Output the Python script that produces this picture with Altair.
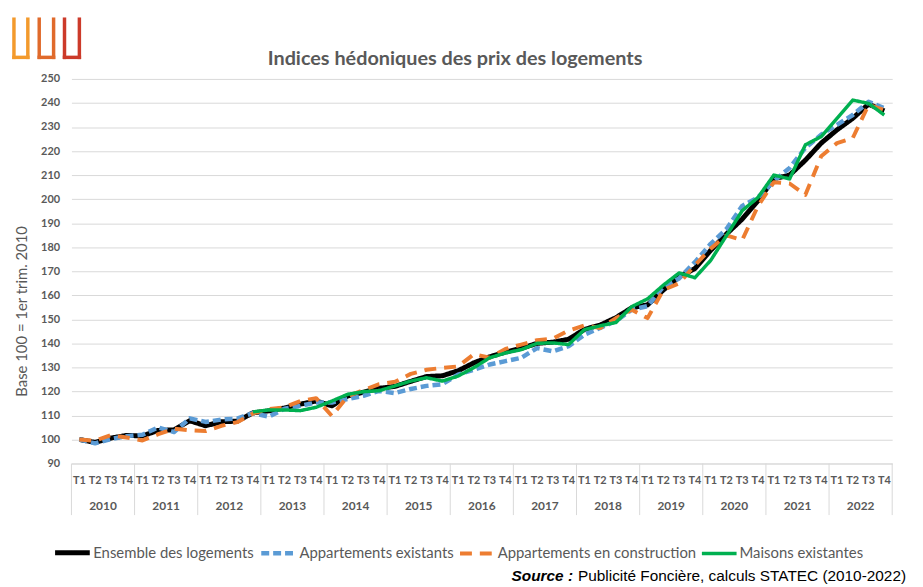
import altair as alt
import pandas as pd

years = list(range(2010, 2023))
quarter_names = ["T1", "T2", "T3", "T4"]
quarters = [f"{y} {q}" for y in years for q in quarter_names]

series_names = [
    "Ensemble des logements",
    "Appartements existants",
    "Appartements en construction",
    "Maisons existantes",
]
series_colors = ["#000000", "#5b9bd5", "#ed7d31", "#00b050"]
series_dash = [[1, 0], [8, 4], [12, 8], [1, 0]]
series_width = [5, 3.5, 3.5, 2.25]

ensemble = [100.0, 98.8, 100.6, 101.7,
            101.5, 103.8, 104.0, 107.8,
            105.7, 107.4, 107.6, 111.1,
            111.9, 113.1, 114.7, 116.0,
            114.0, 118.1, 119.7, 121.3,
            122.1, 124.2, 126.2, 126.5,
            128.6, 131.9, 134.4, 136.4,
            137.9, 140.0, 140.5, 141.7,
            145.8, 147.6, 150.7, 154.8,
            156.0, 162.2, 167.7, 171.1,
            178.7, 185.5, 191.7, 199.3,
            208.5, 210.0, 216.2, 223.3,
            228.8, 233.6, 239.5, 236.7]

app_existants = [100.0, 98.4, 100.2, 101.4,
                 102.0, 105.0, 103.1, 108.8,
                 107.3, 108.3, 108.7, 111.0,
                 109.5, 112.8, 114.0, 115.4,
                 115.4, 116.8, 118.2, 120.2,
                 119.3, 121.0, 122.3, 123.0,
                 127.0, 129.0, 131.2, 132.6,
                 134.0, 138.0, 136.7, 138.8,
                 143.6, 146.4, 149.3, 154.0,
                 155.5, 163.6, 167.0, 173.8,
                 181.4, 187.6, 197.2, 200.7,
                 207.5, 213.0, 221.3, 226.8,
                 230.9, 235.0, 240.5, 237.8]

app_construction = [100.0, 99.5, 101.8, 100.8,
                    99.6, 102.2, 104.5, 103.8,
                    103.5, 105.7, 107.2, 110.8,
                    112.7, 113.4, 116.0, 117.2,
                    109.8, 118.0, 120.5, 123.0,
                    124.0, 127.3, 129.0, 129.8,
                    130.4, 135.5, 134.0, 137.7,
                    139.5, 141.3, 142.0, 145.3,
                    147.5, 146.4, 150.5, 154.0,
                    150.5, 162.2, 165.0, 172.5,
                    179.4, 184.9, 183.0, 197.2,
                    207.0, 206.5, 201.8, 217.8,
                    223.3, 225.4, 239.2, 237.0]

maisons = [None] * 11 + [111.5,
                         112.3, 112.3, 112.0, 113.4,
                         116.0, 118.8, 119.9, 120.3,
                         122.3, 124.3, 125.7, 124.3,
                         126.4, 129.9, 134.0, 136.0,
                         137.4, 140.0, 140.2, 139.5,
                         145.7, 147.3, 148.7, 155.3,
                         158.5, 164.2, 169.3, 167.3,
                         174.5, 184.8, 195.2, 200.7,
                         210.0, 208.4, 222.6, 226.0,
                         233.6, 241.2, 239.8, 235.0]

y_ticks = list(range(90, 251, 10))

title_text = "Indices hédoniques des prix des logements"
y_title = "Base 100 = 1er trim. 2010"
source_bold = "Source :"
source_rest = "Publicité Foncière, calculs STATEC (2010-2022)"

GRAY = "#595959"
GRID = "#d9d9d9"
FONT = "Lato"

all_values = [ensemble, app_existants, app_construction, maisons]
rows = []
for name, vals in zip(series_names, all_values):
    for i, (q, v) in enumerate(zip(quarters, vals)):
        if v is not None:
            rows.append({"q": q, "idx": i, "series": name, "value": v})
df = pd.DataFrame(rows)

W, H = 828, 388

x_scale = alt.Scale(type="band", domain=quarters, paddingInner=0, paddingOuter=0)
x_axis = alt.Axis(
    title=None,
    labelExpr="split(datum.value, ' ')[1]",
    labelAngle=0,
    labelFont=FONT,
    labelFontSize=11,
    labelFontWeight="bold",
    labelColor=GRAY,
    labelPadding=11,
    labelOverlap=False,
    labelBound=False,
    ticks=False,
    grid=False,
    domainColor=GRID,
    domainWidth=1,
)
y_enc = alt.Y(
    "value:Q",
    scale=alt.Scale(domain=[90, 250], nice=False, zero=False),
    axis=alt.Axis(
        values=y_ticks,
        title=y_title,
        titleFont=FONT,
        titleFontSize=15,
        titleFontWeight="normal",
        titleColor=GRAY,
        titleAngle=-90,
        titleX=-50,
        titleY=234,
        titleAlign="center",
        titleBaseline="middle",
        labelFont=FONT,
        labelFontSize=11,
        labelFontWeight="bold",
        labelColor=GRAY,
        labelPadding=12,
        ticks=False,
        domain=False,
        gridColor=GRID,
        gridWidth=1,
    ),
)

color_enc = alt.Color(
    "series:N",
    scale=alt.Scale(domain=series_names, range=series_colors),
    legend=alt.Legend(
        title=None,
        orient="none",
        legendX=-19,
        legendY=458,
        direction="horizontal",
        symbolType="stroke",
        symbolSize=1225,
        labelFont=FONT,
        labelFontSize=15,
        labelColor=GRAY,
        labelOffset=1,
        labelLimit=0,
        columnPadding=-2,
    ),
)
dash_enc = alt.StrokeDash(
    "series:N", scale=alt.Scale(domain=series_names, range=series_dash), legend=alt.Legend(title=None)
)
width_enc = alt.StrokeWidth(
    "series:N", scale=alt.Scale(domain=series_names, range=series_width), legend=alt.Legend(title=None)
)

base = alt.Chart(df)
line_layers = []
for name in series_names:
    line_layers.append(
        base.transform_filter(alt.datum.series == name)
        .mark_line(strokeCap="butt", strokeJoin="round")
        .encode(
            x=alt.X("q:N", scale=x_scale, axis=x_axis, bandPosition=0.5),
            y=y_enc,
            color=color_enc,
            strokeDash=dash_enc,
            strokeWidth=width_enc,
            order=alt.Order("idx:Q"),
        )
    )

year_df = pd.DataFrame({"year": [str(y) for y in years], "q": [f"{y} T2" for y in years]})
year_labels = alt.Chart(year_df).mark_text(
    font=FONT, fontSize=12, fontWeight="bold", color=GRAY, baseline="middle", align="center"
).encode(
    x=alt.X("q:N", scale=x_scale, axis=x_axis, bandPosition=1),
    y=alt.value(H + 43),
    text="year:N",
)

sep_df = pd.DataFrame({"q": [f"{y} T1" for y in years]})
separators = alt.Chart(sep_df).mark_rule(color=GRID, strokeWidth=1).encode(
    x=alt.X("q:N", scale=x_scale, axis=x_axis, bandPosition=0),
    y=alt.value(H),
    y2=alt.value(H + 52),
)
end_df = pd.DataFrame({"q": [quarters[-1]]})
end_sep = alt.Chart(end_df).mark_rule(color=GRID, strokeWidth=1).encode(
    x=alt.X("q:N", scale=x_scale, axis=x_axis, bandPosition=1),
    y=alt.value(H),
    y2=alt.value(H + 52),
)

one = alt.Data(values=[{}])
title_mark = alt.Chart(one).mark_text(
    text=title_text, font=FONT, fontSize=20, fontWeight="bold", color=GRAY,
    align="center", baseline="middle",
).encode(x=alt.value(387), y=alt.value(-20))

src1 = alt.Chart(one).mark_text(
    text=source_bold, font="Liberation Sans", fontSize=15.5, fontWeight="bold",
    fontStyle="italic", color="#000000", align="right", baseline="middle",
).encode(x=alt.value(506), y=alt.value(502))
src2 = alt.Chart(one).mark_text(
    text=source_rest, font="Liberation Sans", fontSize=15.5, color="#000000",
    align="left", baseline="middle",
).encode(x=alt.value(511), y=alt.value(502))

# decorative logo (three U shapes)
logo_layers = []
logo_specs = [(-58, -44, "#f39a2c"), (-32.5, -18, "#e06a2b"), (-7, 8, "#cc3a2a")]
for left, right, col in logo_specs:
    logo_layers.append(alt.Chart(one).mark_rule(color=col, strokeWidth=3.5).encode(
        x=alt.value(left), y=alt.value(-62), y2=alt.value(-20)))
    logo_layers.append(alt.Chart(one).mark_rule(color=col, strokeWidth=3.5).encode(
        x=alt.value(right), y=alt.value(-62), y2=alt.value(-20)))
    logo_layers.append(alt.Chart(one).mark_rule(color=col, strokeWidth=3.5).encode(
        x=alt.value(left - 1.75), x2=alt.value(right + 1.75), y=alt.value(-21.75)))

chart = alt.layer(
    separators, end_sep, *line_layers, year_labels, title_mark, src1, src2, *logo_layers
).properties(
    width=W,
    height=H,
    padding={"left": 64, "top": 69, "right": 23, "bottom": 122},
    autosize=alt.AutoSizeParams(type="none"),
    background="white",
).configure_view(stroke=None)

chart.save("out.html", embed_options={"renderer": "svg", "actions": False})
